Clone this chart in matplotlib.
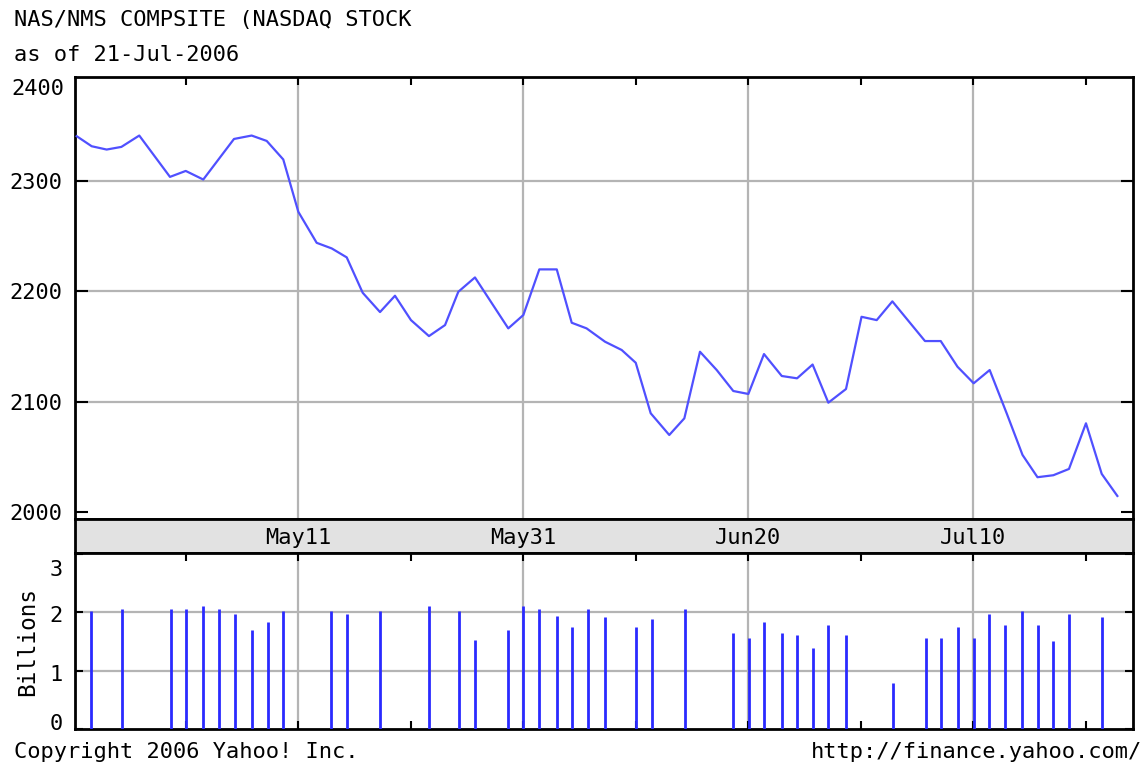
import matplotlib
matplotlib.use("Agg")
import matplotlib.pyplot as plt
from matplotlib.transforms import ScaledTranslation

# ---- data (x in days since 21-Apr-2006) ----
price_day = [0.33, 1.66, 2.99, 4.30, 5.89, 8.62, 10.02, 11.58, 14.31, 15.88,
             17.22, 18.69, 20.03, 21.66, 23.00, 24.33, 25.75, 27.29, 28.62, 30.04,
             31.64, 33.07, 34.25, 35.73, 38.69, 40.03, 41.45, 43.00, 44.33, 45.65,
             47.29, 48.77, 50.02, 51.35, 53.00, 54.34, 55.73, 57.22, 58.69, 60.03,
             61.42, 63.00, 64.36, 65.74, 67.14, 68.71, 70.09, 71.44, 72.83, 75.73,
             77.13, 78.62, 80.06, 81.48, 82.99, 84.40, 85.73, 87.14, 88.53, 90.04,
             91.44, 92.83]
price = [2340.8, 2331.7, 2328.7, 2331.1, 2341.4, 2303.9, 2309.3, 2301.5, 2338.3, 2341.4,
         2336.5, 2319.7, 2272.2, 2244.1, 2239.0, 2230.9, 2198.8, 2181.3, 2196.1, 2174.0,
         2159.5, 2169.5, 2199.7, 2212.7, 2166.5, 2178.6, 2220.0, 2220.0, 2171.6, 2166.5,
         2154.4, 2146.9, 2135.3, 2089.5, 2069.8, 2084.9, 2145.3, 2128.7, 2109.7, 2107.0,
         2143.2, 2123.3, 2121.2, 2133.7, 2099.1, 2111.5, 2177.0, 2174.0, 2191.0, 2155.0,
         2155.0, 2131.7, 2116.7, 2128.7, 2089.5, 2051.7, 2031.5, 2033.3, 2039.0, 2080.4,
         2034.5, 2014.5]

vol_day = [1.60, 4.36, 8.67, 10.04, 11.56, 12.98, 14.36, 15.91, 17.33, 18.67,
           22.93, 24.36, 27.29, 31.64, 34.31, 35.73, 38.67, 40.00, 41.42, 43.02,
           44.36, 45.78, 47.29, 50.04, 51.47, 54.40, 58.67, 60.09, 61.42, 63.02,
           64.36, 65.78, 67.11, 68.71, 72.89, 75.78, 77.16, 78.67, 80.09, 81.42,
           82.84, 84.36, 85.78, 87.11, 88.53, 91.47]
volume = [2.01, 2.06, 2.06, 2.06, 2.10, 2.06, 1.97, 1.70, 1.83, 2.01,
          2.01, 1.97, 2.01, 2.10, 2.01, 1.52, 1.70, 2.10, 2.06, 1.93,
          1.74, 2.06, 1.92, 1.74, 1.88, 2.06, 1.65, 1.56, 1.83, 1.65,
          1.60, 1.38, 1.78, 1.60, 0.79, 1.56, 1.56, 1.74, 1.56, 1.97,
          1.78, 2.01, 1.78, 1.51, 1.97, 1.92]

date_ticks = [20, 40, 60, 80]
date_labels = ["May11", "May31", "Jun20", "Jul10"]
minor_ticks = [10, 30, 50, 70, 90]
price_ticks = [2000, 2100, 2200, 2300]
vol_ticks = [0, 1, 2, 3]

FONT = "DejaVu Sans Mono"
FS = 15.8
LINE_C = "#5050ff"
BAR_C = "#2a2aff"
GRID_C = "#b4b4b4"

W, H = 1146, 767
fig = plt.figure(figsize=(W / 100, H / 100), dpi=100)

def ax_rect(l, t, r, b):
    return [l / W, 1 - b / H, (r - l) / W, (b - t) / H]

XL = (0.178, 94.22)

# price panel
ax = fig.add_axes(ax_rect(75, 77, 1133, 519))
ax.plot(price_day, price, color=LINE_C, lw=1.6, zorder=3)
ax.set_xlim(*XL)
ax.set_ylim(1993.6, 2394.5)
ax.set_yticks(price_ticks)
ax.set_yticklabels([str(v) for v in price_ticks], fontfamily=FONT, fontsize=FS)
ax.set_xticks(date_ticks)
ax.set_xticks(minor_ticks, minor=True)
ax.tick_params(axis="x", which="both", bottom=False, top=True, labelbottom=False,
               direction="in", length=6, width=1.5)
ax.tick_params(axis="y", which="both", left=True, right=True, direction="in",
               length=9, width=1.5, pad=9)
for v in [2100, 2200, 2300]:
    ax.axhline(v, color=GRID_C, lw=1.6, zorder=1)
for d in date_ticks:
    ax.axvline(d, color=GRID_C, lw=1.6, zorder=1)
ax.text(-0.010, 1.0, "2400", transform=ax.transAxes + ScaledTranslation(0, -0.02, fig.dpi_scale_trans),
        ha="right", va="top", fontfamily=FONT, fontsize=FS)
for s in ax.spines.values():
    s.set_linewidth(2)

# date band
band = fig.add_axes(ax_rect(75, 519, 1133, 553))
band.set_facecolor("#e2e2e2")
band.set_xlim(*XL)
band.set_ylim(0, 1)
band.set_xticks([])
band.set_yticks([])
for d, lab in zip(date_ticks, date_labels):
    band.text(d, 0.45, lab, ha="center", va="center", fontfamily=FONT, fontsize=FS)
for s in band.spines.values():
    s.set_linewidth(2)

# volume panel
axv = fig.add_axes(ax_rect(75, 553, 1133, 729))
axv.vlines(vol_day, 0, volume, color=BAR_C, lw=2, zorder=3)
axv.set_xlim(*XL)
axv.set_ylim(0, 3.01)
axv.set_yticks(vol_ticks)
axv.set_yticklabels([str(v) for v in vol_ticks], fontfamily=FONT, fontsize=FS)
axv.set_xticks(date_ticks)
axv.set_xticks(minor_ticks, minor=True)
axv.tick_params(axis="x", which="both", bottom=True, top=True, labelbottom=False,
                direction="in", length=6, width=1.5)
axv.tick_params(axis="y", which="both", left=True, right=True, direction="in",
                length=6, width=1.5, pad=9)
labs = axv.get_yticklabels()
labs[0].set_transform(labs[0].get_transform() + ScaledTranslation(0, 0.07, fig.dpi_scale_trans))
labs[-1].set_transform(labs[-1].get_transform() + ScaledTranslation(0, -0.14, fig.dpi_scale_trans))
for lab in labs[1:3]:
    lab.set_transform(lab.get_transform() + ScaledTranslation(0, -0.02, fig.dpi_scale_trans))
for v in [1, 2]:
    axv.axhline(v, color=GRID_C, lw=1.6, zorder=1)
for d in date_ticks:
    axv.axvline(d, color=GRID_C, lw=1.6, zorder=1)
axv.set_ylabel("Billions", fontfamily=FONT, fontsize=FS + 0.5, labelpad=7)
for s in axv.spines.values():
    s.set_linewidth(2)

# header / footer text
fig.text(14 / W, 1 - 20 / H, "NAS/NMS COMPSITE (NASDAQ STOCK", ha="left", va="center",
         fontfamily=FONT, fontsize=FS)
fig.text(14 / W, 1 - 55 / H, "as of 21-Jul-2006", ha="left", va="center",
         fontfamily=FONT, fontsize=FS)
fig.text(14 / W, 1 - 752 / H, "Copyright 2006 Yahoo! Inc.", ha="left", va="center",
         fontfamily=FONT, fontsize=FS)
fig.text(1142 / W, 1 - 752 / H, "http://finance.yahoo.com/", ha="right", va="center",
         fontfamily=FONT, fontsize=FS)

fig.savefig("out.png", dpi=100, facecolor="white")
